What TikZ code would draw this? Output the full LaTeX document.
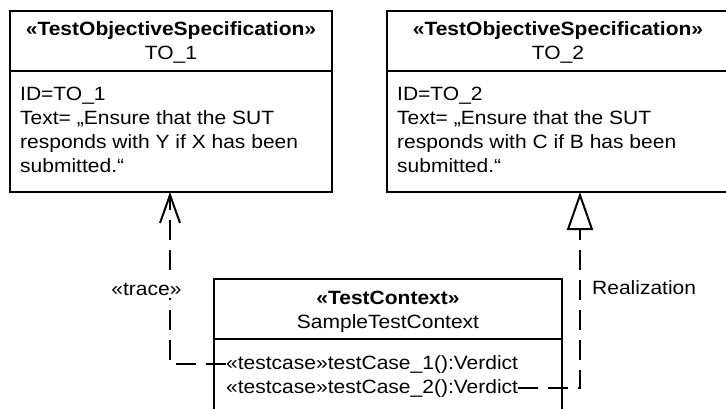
\documentclass[tikz,border=0pt]{standalone}
\usepackage{fontspec}
\setmainfont{Liberation Sans}[FakeStretch=1.094]
\usetikzlibrary{arrows.meta}
\begin{document}
\begin{tikzpicture}[x=1pt,y=-1pt,
  umlbox/.style={draw, line width=2.3pt, inner sep=0pt, outer sep=0pt, anchor=north west},
  txt/.style={inner sep=0pt, font=\fontsize{19.2}{24}\selectfont},
  btxt/.style={txt, font=\fontsize{19.2}{24}\selectfont\bfseries},
  conn/.style={line width=2pt, dash pattern=on 20pt off 10pt},
  divider/.style={line width=2.3pt}]
\clip (0,0) rectangle (726,409);
% boxes
\node[umlbox, minimum width=322pt, minimum height=181pt] (b1) at (10,11) {};
\node[umlbox, minimum width=341pt, minimum height=181pt] (b2) at (387,11) {};
\node[umlbox, minimum width=348pt, minimum height=140pt] (b3) at (214,279) {};
\coordinate (d1) at (0,71);
\coordinate (d3) at (0,339);
\draw[divider] (b1.west |- d1) -- (b1.east |- d1);
\draw[divider] (b2.west |- d1) -- (b2.east |- d1);
\draw[divider] (b3.west |- d3) -- (b3.east |- d3);
% box 1 text
\node[btxt, anchor=base] (s1) at (171,36) {«TestObjectiveSpecification»};
\node[txt, anchor=base] (n1) at (171,60) {TO\_1};
\node[txt, anchor=base west] (a1) at (20,101) {ID=TO\_1};
\node[txt, anchor=base west] (a2) at (20,125) {Text= „Ensure that the SUT};
\node[txt, anchor=base west] (a3) at (20,149) {responds with Y if X has been};
\node[txt, anchor=base west] (a4) at (20,173) {submitted.“};
% box 2 text
\node[btxt, anchor=base] (s2) at (558,36) {«TestObjectiveSpecification»};
\node[txt, anchor=base] (n2) at (558,60) {TO\_2};
\node[txt, anchor=base west] (c1) at (397,101) {ID=TO\_2};
\node[txt, anchor=base west] (c2) at (397,125) {Text= „Ensure that the SUT};
\node[txt, anchor=base west] (c3) at (397,149) {responds with C if B has been};
\node[txt, anchor=base west] (c4) at (397,173) {submitted.“};
% box 3 text
\node[btxt, anchor=base] (s3) at (388,304) {«TestContext»};
\node[txt, anchor=base] (n3) at (388,328) {SampleTestContext};
\node[txt, anchor=base west] (r1) at (226,369) {«testcase»testCase\_1():Verdict};
\node[txt, anchor=base west] (r2) at (226,393) {«testcase»testCase\_2():Verdict};
% connectors
\coordinate (tr) at (170,0);
\coordinate (rz) at (580,0);
\draw[conn, -{Straight Barb[length=28pt,width=20pt]}] (r1.west) -- (r1.west -| tr) -- (b1.south -| tr);
\draw[conn, -{Triangle[open,length=38pt,width=26pt]}] (r2.east) -- (r2.east -| rz) -- (b2.south -| rz);
% labels
\node[txt, fill=white, inner xsep=0pt, inner ysep=3pt] (trl) at (146.5,289) {«trace»};
\node[txt, anchor=west] (rl) at (592,288) {Realization};
\end{tikzpicture}
\end{document}
